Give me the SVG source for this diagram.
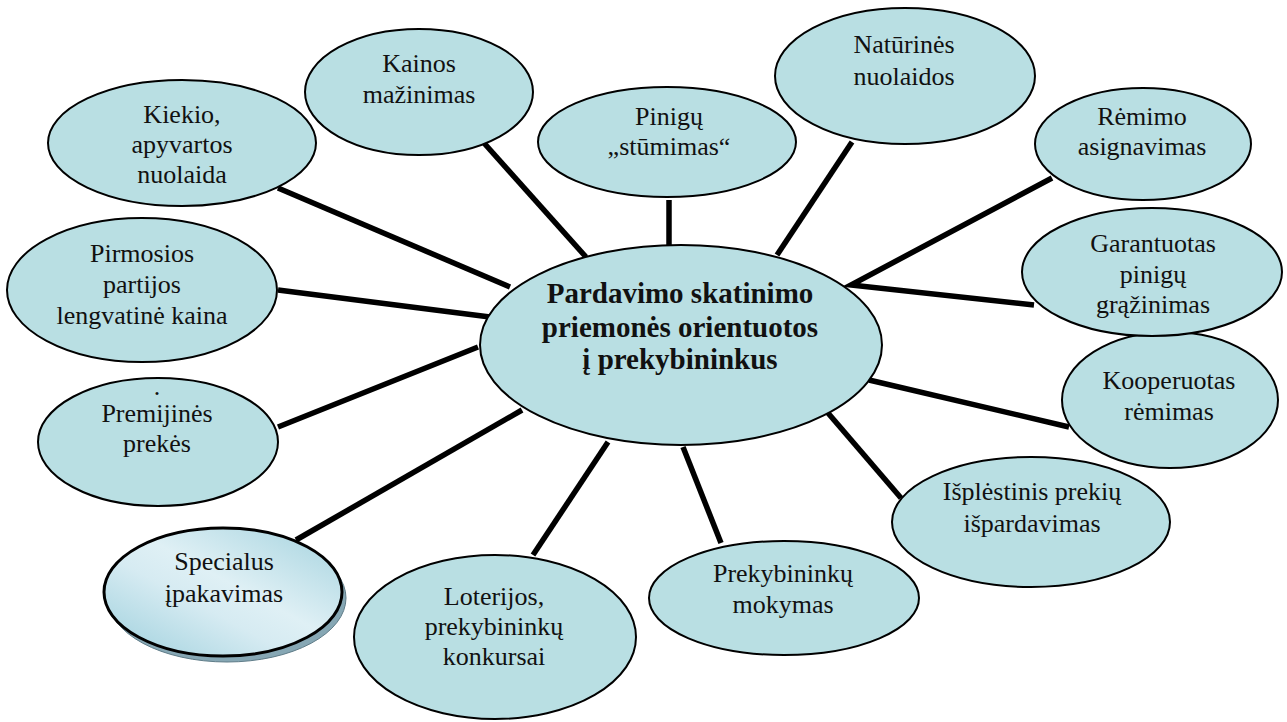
<svg xmlns="http://www.w3.org/2000/svg" width="1287" height="722" viewBox="0 0 1287 722">
  <defs>
    <style>
      .node { fill: #b9dfe3; stroke: #000; stroke-width: 2; }
      .lbl { font-family: "Liberation Serif", "Times New Roman", serif; font-size: 26px; font-weight: 400; fill: #111; text-anchor: middle; }
      .hub { font-family: "Liberation Serif", "Times New Roman", serif; font-size: 29px; font-weight: 700; fill: #111; text-anchor: middle; }
      .link { stroke: #000; stroke-width: 5.5; fill: none; stroke-linejoin: miter; }
    </style>
    <linearGradient id="gradSheen" x1="1" y1="0" x2="0" y2="1">
      <stop offset="0" stop-color="#a3d2de"/>
      <stop offset="0.45" stop-color="#dff0f5"/>
      <stop offset="0.6" stop-color="#d6ebf2"/>
      <stop offset="1" stop-color="#9ccfdc"/>
    </linearGradient>
  </defs>

  <rect width="1287" height="722" fill="#fff"/>

  <!-- spokes from the hub to every surrounding item -->
  <g id="connectors">
    <line class="link" x1="278" y1="188" x2="510" y2="287"/>
    <line class="link" x1="484" y1="143" x2="586" y2="257"/>
    <line class="link" x1="669" y1="200" x2="669" y2="245"/>
    <line class="link" x1="852" y1="142" x2="777" y2="255"/>
    <polyline class="link" points="1052,178 851,285 1034,305"/>
    <line class="link" x1="869" y1="380" x2="1069" y2="427"/>
    <line class="link" x1="828" y1="413" x2="901" y2="498"/>
    <line class="link" x1="683" y1="447" x2="721" y2="543"/>
    <line class="link" x1="608" y1="442" x2="533" y2="555"/>
    <line class="link" x1="522" y1="410" x2="296" y2="540"/>
    <line class="link" x1="478" y1="347" x2="278" y2="427"/>
    <line class="link" x1="278" y1="290" x2="490" y2="317"/>
  </g>

  <g id="node-kainos">
    <ellipse class="node" cx="419" cy="92" rx="114" ry="63"/>
    <text class="lbl" x="419" y="72">Kainos</text>
    <text class="lbl" x="419" y="103">mažinimas</text>
  </g>

  <g id="node-kiekio">
    <ellipse class="node" cx="182" cy="143" rx="134" ry="63"/>
    <text class="lbl" x="182" y="123">Kiekio,</text>
    <text class="lbl" x="182" y="153">apyvartos</text>
    <text class="lbl" x="182" y="183">nuolaida</text>
  </g>

  <g id="node-pirmosios">
    <ellipse class="node" cx="142" cy="290" rx="135" ry="72"/>
    <text class="lbl" x="142" y="262">Pirmosios</text>
    <text class="lbl" x="142" y="293">partijos</text>
    <text class="lbl" x="142" y="324">lengvatinė kaina</text>
  </g>

  <g id="node-premijines">
    <ellipse class="node" cx="158" cy="442" rx="120" ry="64"/>
    <text class="lbl" x="157" y="395">.</text>
    <text class="lbl" x="157" y="422">Premijinės</text>
    <text class="lbl" x="157" y="452">prekės</text>
  </g>

  <g id="node-specialus">
    <!-- raised look: darker offset copy underneath -->
    <ellipse cx="227" cy="598" rx="119" ry="64" fill="#86a7b4" stroke="#5f7c88" stroke-width="1"/>
    <ellipse cx="223" cy="592" rx="119" ry="64" fill="url(#gradSheen)" stroke="#000" stroke-width="3"/>
    <text class="lbl" x="224" y="570">Specialus</text>
    <text class="lbl" x="224" y="602">įpakavimas</text>
  </g>

  <g id="node-loterijos">
    <ellipse class="node" cx="495" cy="637" rx="141" ry="82"/>
    <text class="lbl" x="494" y="605">Loterijos,</text>
    <text class="lbl" x="494" y="635">prekybininkų</text>
    <text class="lbl" x="494" y="665">konkursai</text>
  </g>

  <g id="node-mokymas">
    <ellipse class="node" cx="784" cy="598" rx="135" ry="57"/>
    <text class="lbl" x="783" y="582">Prekybininkų</text>
    <text class="lbl" x="783" y="613">mokymas</text>
  </g>

  <g id="node-ispardavimas">
    <ellipse class="node" cx="1031" cy="522" rx="139" ry="65"/>
    <text class="lbl" x="1032" y="500">Išplėstinis prekių</text>
    <text class="lbl" x="1032" y="532">išpardavimas</text>
  </g>

  <g id="node-kooperuotas">
    <ellipse class="node" cx="1170" cy="400" rx="108" ry="68"/>
    <text class="lbl" x="1169" y="389">Kooperuotas</text>
    <text class="lbl" x="1169" y="420">rėmimas</text>
  </g>

  <g id="node-garantuotas">
    <ellipse class="node" cx="1152" cy="272" rx="130" ry="64"/>
    <text class="lbl" x="1153" y="252">Garantuotas</text>
    <text class="lbl" x="1153" y="283">pinigų</text>
    <text class="lbl" x="1153" y="313">grąžinimas</text>
  </g>

  <g id="node-remimo">
    <ellipse class="node" cx="1143" cy="144" rx="108" ry="56"/>
    <text class="lbl" x="1142" y="125">Rėmimo</text>
    <text class="lbl" x="1142" y="155">asignavimas</text>
  </g>

  <g id="node-naturines">
    <ellipse class="node" cx="905" cy="76" rx="130" ry="68"/>
    <text class="lbl" x="904" y="53">Natūrinės</text>
    <text class="lbl" x="904" y="85">nuolaidos</text>
  </g>

  <g id="node-pinigu">
    <ellipse class="node" cx="667" cy="142" rx="129" ry="55"/>
    <text class="lbl" x="669" y="125">Pinigų</text>
    <text class="lbl" x="669" y="155">„stūmimas“</text>
  </g>

  <g id="node-hub">
    <ellipse class="node" cx="681" cy="345" rx="201" ry="100"/>
    <text class="hub" x="680" y="303">Pardavimo skatinimo</text>
    <text class="hub" x="680" y="337">priemonės orientuotos</text>
    <text class="hub" x="680" y="369">į prekybininkus</text>
  </g>
</svg>
